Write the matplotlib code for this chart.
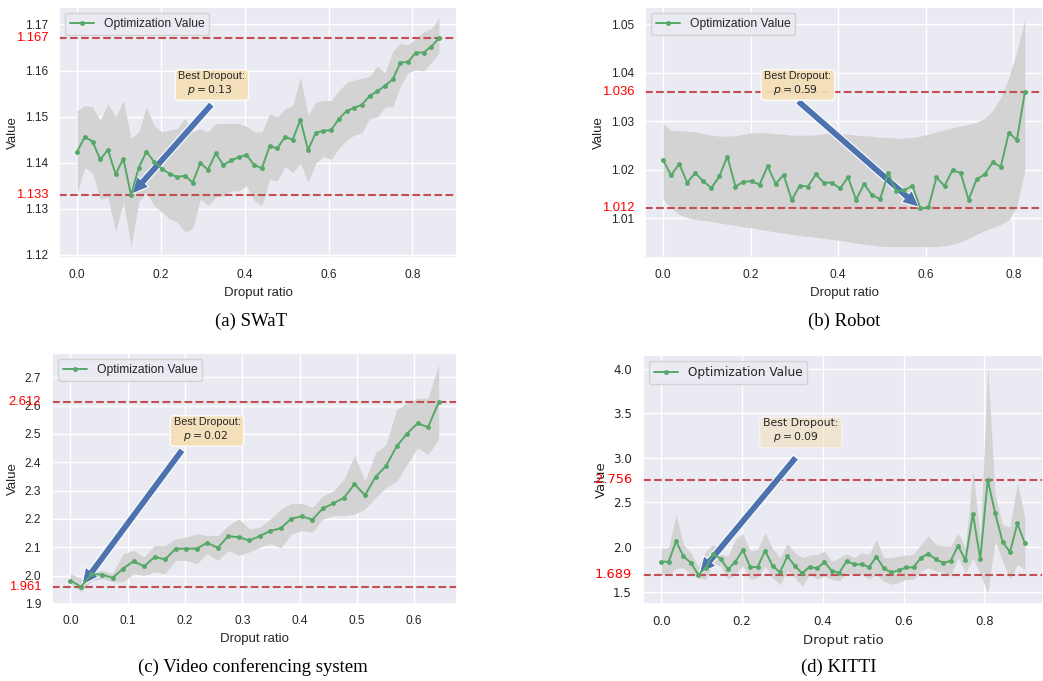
import numpy as np
import matplotlib
matplotlib.use("Agg")
import matplotlib.pyplot as plt
from matplotlib.ticker import FormatStrFormatter
import seaborn as sns

sns.set_theme(style="darkgrid")

# dropout ratios tried in every sweep
dropout_grid = np.linspace(0, 0.9, 50)

# (a) SWaT
swat_y = [1.1424, 1.1456, 1.1446, 1.1407, 1.1428, 1.1375, 1.1409, 1.133, 1.1389, 1.1424,
          1.1402, 1.1387, 1.1376, 1.1369, 1.1372, 1.1357, 1.1399, 1.1385, 1.1420, 1.1395,
          1.1405, 1.1412, 1.1417, 1.1395, 1.1388, 1.1436, 1.1431, 1.1456, 1.1450, 1.1493,
          1.1428, 1.1465, 1.1469, 1.1471, 1.1495, 1.1512, 1.1519, 1.1526, 1.1545, 1.1555,
          1.1567, 1.1581, 1.1617, 1.1619, 1.1639, 1.1639, 1.1652, 1.167]
swat_hi = [1.1513, 1.1524, 1.1521, 1.1492, 1.1528, 1.1499, 1.1535, 1.1453, 1.1467, 1.1521,
           1.1481, 1.1467, 1.1471, 1.1474, 1.1496, 1.1467, 1.1474, 1.1467, 1.1485, 1.1485,
           1.1486, 1.1485, 1.1479, 1.1467, 1.1467, 1.1506, 1.1499, 1.1517, 1.1524, 1.1585,
           1.1503, 1.1531, 1.1535, 1.1535, 1.1556, 1.1574, 1.1579, 1.1583, 1.1588, 1.1610,
           1.1595, 1.1642, 1.1659, 1.1656, 1.1670, 1.1684, 1.1691, 1.1713]
swat_lo = [1.1335, 1.1389, 1.1378, 1.1321, 1.1325, 1.1250, 1.1314, 1.1218, 1.1314, 1.1335,
           1.1307, 1.1293, 1.1278, 1.1271, 1.1250, 1.1257, 1.1321, 1.1307, 1.1325, 1.1328,
           1.1339, 1.1339, 1.1350, 1.1318, 1.1307, 1.1364, 1.1360, 1.1392, 1.1378, 1.1399,
           1.1357, 1.1399, 1.1414, 1.1407, 1.1431, 1.1449, 1.1460, 1.1465, 1.1496, 1.1499,
           1.1521, 1.1521, 1.1567, 1.1595, 1.1602, 1.1599, 1.1617, 1.1638]
swat_ticks = [1.12, 1.13, 1.14, 1.15, 1.16, 1.17]

# (b) Robot
robot_y = [1.0220, 1.0188, 1.0212, 1.0173, 1.0193, 1.0176, 1.0162, 1.0186, 1.0227, 1.0165,
           1.0175, 1.0176, 1.0169, 1.0207, 1.0171, 1.0189, 1.0137, 1.0167, 1.0165, 1.0190,
           1.0173, 1.0173, 1.0161, 1.0184, 1.0138, 1.0170, 1.0147, 1.0139, 1.0193, 1.0156,
           1.0157, 1.0167, 1.012, 1.0122, 1.0184, 1.0166, 1.0199, 1.0193, 1.0138, 1.0180,
           1.0190, 1.0215, 1.0206, 1.0276, 1.0261, 1.036]
robot_hi = [1.0295, 1.0281, 1.0280, 1.0279, 1.0278, 1.0274, 1.0271, 1.0269, 1.0269, 1.0270,
            1.0273, 1.0276, 1.0276, 1.0276, 1.0274, 1.0273, 1.0271, 1.0271, 1.0271, 1.0272,
            1.0274, 1.0275, 1.0274, 1.0273, 1.0271, 1.0270, 1.0269, 1.0267, 1.0266, 1.0265,
            1.0265, 1.0266, 1.0269, 1.0273, 1.0278, 1.0282, 1.0286, 1.0290, 1.0293, 1.0298,
            1.0305, 1.0322, 1.0349, 1.0390, 1.0444, 1.0512]
robot_lo = [1.0139, 1.0121, 1.0107, 1.0101, 1.0097, 1.0095, 1.0093, 1.0090, 1.0087, 1.0085,
            1.0082, 1.0080, 1.0077, 1.0074, 1.0071, 1.0069, 1.0066, 1.0064, 1.0062, 1.0060,
            1.0058, 1.0056, 1.0054, 1.0051, 1.0048, 1.0046, 1.0044, 1.0042, 1.0041, 1.0041,
            1.0041, 1.0041, 1.0041, 1.0041, 1.0041, 1.0043, 1.0046, 1.0051, 1.0058, 1.0066,
            1.0074, 1.0080, 1.0087, 1.0096, 1.0124, 1.0199]
robot_ticks = [1.01, 1.02, 1.03, 1.04, 1.05]

# (c) Video conferencing system
video_y = [1.9827, 1.961, 2.0049, 2.0040, 1.9921, 2.0248, 2.0505, 2.0329, 2.0657, 2.0575,
           2.0949, 2.0949, 2.0955, 2.1159, 2.0984, 2.1393, 2.1357, 2.1241, 2.1393, 2.1579,
           2.1673, 2.2012, 2.2093, 2.1977, 2.2374, 2.2549, 2.2748, 2.3227, 2.2841, 2.3484,
           2.3869, 2.4558, 2.5014, 2.5376, 2.5236, 2.612]
video_hi = [2.0072, 1.9897, 2.0131, 2.0189, 2.0072, 2.0773, 2.0890, 2.0657, 2.1065, 2.1065,
            2.1299, 2.1357, 2.1474, 2.1416, 2.1416, 2.1766, 2.2000, 2.1650, 2.1708, 2.2000,
            2.2350, 2.2549, 2.2549, 2.2409, 2.2818, 2.2993, 2.3402, 2.4243, 2.3343, 2.4336,
            2.4629, 2.5855, 2.6089, 2.6264, 2.6264, 2.7456]
video_lo = [1.9722, 1.9430, 1.9815, 1.9897, 1.9780, 1.9780, 2.0072, 2.0014, 2.0131, 2.0072,
            2.0540, 2.0540, 2.0423, 2.0773, 2.0540, 2.0890, 2.0715, 2.0832, 2.1007, 2.1124,
            2.0984, 2.1474, 2.1591, 2.1533, 2.2000, 2.2117, 2.2117, 2.2175, 2.2350, 2.2759,
            2.3110, 2.3320, 2.3928, 2.4512, 2.4278, 2.4804]
video_ticks = [1.9, 2.0, 2.1, 2.2, 2.3, 2.4, 2.5, 2.6, 2.7]

# (d) KITTI
kitti_y = [1.8358, 1.8358, 2.0634, 1.8955, 1.8246, 1.689, 1.7687, 1.9254, 1.8694, 1.7500,
           1.8358, 1.9664, 1.7761, 1.7761, 1.9590, 1.7910, 1.7164, 1.8955, 1.7910, 1.7050,
           1.7799, 1.7612, 1.8321, 1.7313, 1.7127, 1.8433, 1.8060, 1.8060, 1.7761, 1.8918,
           1.7612, 1.7164, 1.7388, 1.7724, 1.7724, 1.8806, 1.9254, 1.8619, 1.8246, 1.8433,
           2.0149, 1.8507, 2.3731, 1.8657, 2.756, 2.3806, 2.0597, 1.9440, 2.2649, 2.0448]
kitti_hi = [1.9851, 1.9925, 2.3657, 2.0299, 1.9366, 1.7873, 1.9552, 2.0299, 1.9179, 1.8993,
            2.0858, 2.1493, 1.9552, 1.9739, 2.1604, 1.9851, 1.8806, 2.0373, 1.9366, 1.8806,
            1.9104, 1.9179, 1.9552, 1.8433, 1.8806, 1.9254, 1.8806, 1.9366, 1.9179, 2.0858,
            1.8806, 1.8806, 1.8993, 1.9104, 1.9179, 2.0299, 2.1231, 2.0299, 2.0112, 2.0112,
            2.1604, 1.9925, 2.8694, 2.1045, 4.0261, 2.5896, 2.2537, 2.2239, 2.7201, 2.3358]
kitti_lo = [1.6940, 1.6940, 1.7612, 1.7687, 1.6940, 1.6567, 1.6381, 1.8060, 1.7873, 1.6381,
            1.7015, 1.7873, 1.6381, 1.6567, 1.7873, 1.6567, 1.5821, 1.7313, 1.6567, 1.5634,
            1.6940, 1.6381, 1.6754, 1.6381, 1.6194, 1.7127, 1.6940, 1.6940, 1.6381, 1.6940,
            1.6194, 1.5821, 1.6007, 1.6381, 1.6381, 1.7313, 1.7687, 1.7313, 1.7127, 1.6754,
            1.8806, 1.7127, 1.8806, 1.6940, 1.4888, 2.0672, 1.8433, 1.6381, 1.8060, 1.7500]
kitti_ticks = [1.5, 2.0, 2.5, 3.0, 3.5, 4.0]

TICK_PAD = 7.9  # points between axes edge and tick labels


def draw_panel(ax, y, lo, hi, ticks, fmt, tail, font, box_alpha):
    x = dropout_grid[:len(y)]
    y = np.array(y)
    best = int(np.argmin(y))
    top = int(np.argmax(y))

    ax.fill_between(x, lo, hi, color="lightgray", linewidth=0)
    ax.plot(x, y, "g-o", markersize=3.5, markeredgewidth=0, linewidth=1.4,
            label="Optimization Value", zorder=3)
    ax.axhline(y[best], color="r", linestyle="--", linewidth=1.5)
    ax.axhline(y[top], color="r", linestyle="--", linewidth=1.5)

    ax.set_yticks(ticks)
    ax.yaxis.set_major_formatter(FormatStrFormatter(fmt))
    ax.set_xticks([t for t in np.arange(0, 1.0, 0.2 if len(y) > 40 else 0.1)
                   if t <= x[-1] + 0.04])
    ax.xaxis.set_major_formatter(FormatStrFormatter("%.1f"))
    ax.tick_params(axis="both", length=0, pad=TICK_PAD, labelsize=8.6,
                   colors=".15")
    for lab in ax.get_xticklabels() + ax.get_yticklabels():
        lab.set_family(font)

    # min / max values written in red next to the y axis
    for v in (y[best], y[top]):
        ax.annotate(f"{v:.3f}", xy=(0, v), xycoords=ax.get_yaxis_transform(),
                    xytext=(-TICK_PAD, 0), textcoords="offset points",
                    ha="right", va="center", color="red", fontsize=9.4,
                    family=font)

    ax.set_xlabel("Droput ratio", fontsize=9.5, family=font, color=".15")
    ax.set_ylabel("Value", fontsize=9.5, family=font, color=".15")

    ax.legend(loc="upper left", frameon=True, edgecolor="0.8",
              prop={"family": font, "size": 8.7})

    ax.text(0.3, 0.745, f"Best Dropout:\n   $p = {x[best]:.2f}$",
            transform=ax.transAxes, ha="left", va="top", fontsize=7.8,
            family=font, color=".15", zorder=5,
            bbox=dict(boxstyle="round", facecolor="wheat", edgecolor="white",
                      alpha=box_alpha))
    ax.annotate("", xy=(x[best], y[best]), xytext=tail, zorder=2.5,
                arrowprops=dict(facecolor="b", edgecolor="white", linewidth=0.8,
                                width=5, headwidth=11.5, headlength=12,
                                shrink=0.01))


fig = plt.figure(figsize=(10.43, 6.81), dpi=100)
ax_a = fig.add_axes([0.0566, 0.6211, 0.3816, 0.3686])
ax_b = fig.add_axes([0.6184, 0.6211, 0.3816, 0.3686])
ax_c = fig.add_axes([0.0499, 0.1131, 0.3883, 0.3686])
ax_d = fig.add_axes([0.6165, 0.1131, 0.3835, 0.3656])

draw_panel(ax_a, swat_y, swat_lo, swat_hi, swat_ticks, "%.2f",
           (0.323, 1.1529), "Liberation Sans", 0.9)
draw_panel(ax_b, robot_y, robot_lo, robot_hi, robot_ticks, "%.2f",
           (0.305, 1.0344), "Liberation Sans", 0.9)
draw_panel(ax_c, video_y, video_lo, video_hi, video_ticks, "%.1f",
           (0.197, 2.449), "Liberation Sans", 0.9)
draw_panel(ax_d, kitti_y, kitti_lo, kitti_hi, kitti_ticks, "%.1f",
           (0.336, 3.019), "DejaVu Sans", 0.5)

captions = ["(a) SWaT", "(b) Robot", "(c) Video conferencing system", "(d) KITTI"]
cap_x = [251, 844, 253, 839]
cap_y = [326, 326, 672, 672]
for text, cx, cy in zip(captions, cap_x, cap_y):
    fig.text(cx / 1043, 1 - cy / 681, text, ha="center", va="baseline",
             fontsize=13.5, family="Liberation Serif", color="black")

fig.savefig("out.png", dpi=100, facecolor="white")
